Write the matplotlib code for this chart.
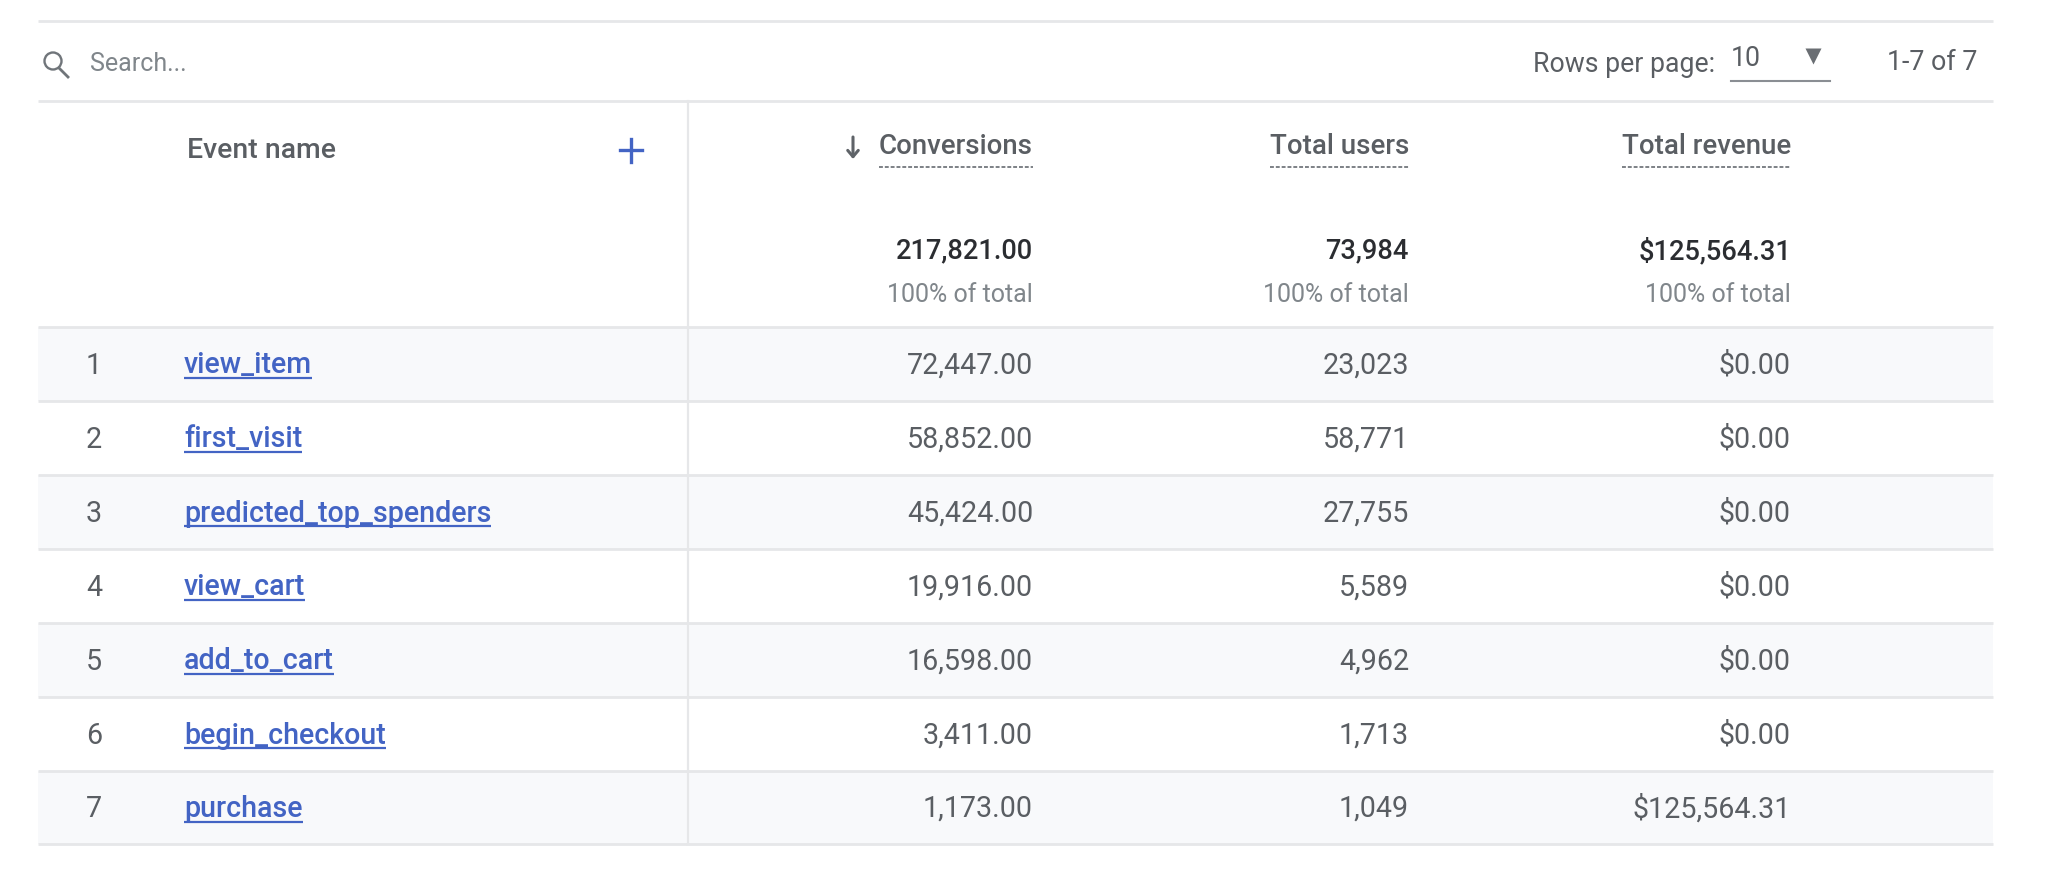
#!/usr/bin/env python3
"""Event conversions table, drawn on a pixel-sized axes"""

import matplotlib
matplotlib.use('Agg')
import matplotlib.pyplot as plt
from matplotlib.patches import Circle, Rectangle

# table content
event_names = ["view_item", "first_visit", "predicted_top_spenders", "view_cart",
               "add_to_cart", "begin_checkout", "purchase"]
conversions = ["72,447.00", "58,852.00", "45,424.00", "19,916.00",
               "16,598.00", "3,411.00", "1,173.00"]
total_users = ["23,023", "58,771", "27,755", "5,589", "4,962", "1,713", "1,049"]
total_revenue = ["$0.00", "$0.00", "$0.00", "$0.00", "$0.00", "$0.00", "$125,564.31"]
metric_headers = ["Conversions", "Total users", "Total revenue"]
metric_totals = ["217,821.00", "73,984", "$125,564.31"]

# layout in pixels
W, H = 2046, 876
LEFT, RIGHT = 38, 1993
DIVIDER_X = 688
COL_RIGHT = [1033, 1409, 1791]
ROW_LINES = [327, 401, 475, 549, 623, 697, 771, 844]

TEXT = '#5a5e63'
DARK = '#2b2d31'
MUTED = '#80868b'
BLUE = '#4364c4'
LINE = '#e6e7e9'
SHADE = '#f8f9fb'
FS = 20.6

plt.rcParams['font.family'] = ['Roboto', 'DejaVu Sans']

fig = plt.figure(figsize=(W / 100, H / 100), dpi=100)
ax = fig.add_axes([0, 0, 1, 1])
ax.set_xlim(0, W)
ax.set_ylim(H, 0)
ax.axis('off')


def underline(txt, y, color, lw, ls='-'):
    """Draw a line under a text, as wide as the text itself"""
    box = txt.get_window_extent(fig.canvas.get_renderer())
    ax.plot([box.x0, box.x1], [y, y], color=color, lw=lw, ls=ls, solid_capstyle='butt')


# shaded rows
for i in range(0, len(event_names), 2):
    ax.add_patch(Rectangle((LEFT, ROW_LINES[i]), RIGHT - LEFT, ROW_LINES[i + 1] - ROW_LINES[i],
                           facecolor=SHADE, edgecolor='none', zorder=0))

# rules
for y in [21, 101] + ROW_LINES:
    ax.plot([LEFT, RIGHT], [y, y], color=LINE, lw=2, zorder=1, solid_capstyle='butt')
ax.plot([DIVIDER_X, DIVIDER_X], [101, 844], color=LINE, lw=1.6, zorder=1)

# search bar
ax.add_patch(Circle((53, 61), 8.5, fill=False, edgecolor='#70757a', lw=1.7))
ax.plot([59, 68], [68, 77], color='#70757a', lw=2)
ax.text(90, 64, "Search...", fontsize=18, color=MUTED, va='center', ha='left')

# pager
ax.text(1715, 64, "Rows per page:", fontsize=19.2, color=TEXT, va='center', ha='right')
ax.text(1731, 58, "10", fontsize=19.2, color=TEXT, va='center', ha='left')
ax.plot([1813], [56], marker='v', ms=11, color='#6a6e73', mec='none')
ax.plot([1731, 1830], [81, 81], color='#8a8e93', lw=1.5)
ax.text(1977, 63, "1-7 of 7", fontsize=19.3, color=TEXT, va='center', ha='right')

# header row
ax.text(187, 151, "Event name", fontsize=20.4, color=TEXT, va='center', ha='left', fontweight='medium')
ax.plot([631, 631], [139, 162], color=BLUE, lw=2.4)
ax.plot([620, 642], [150, 150], color=BLUE, lw=2.4)

for right, head, total in zip(COL_RIGHT, metric_headers, metric_totals):
    t = ax.text(right, 147, head, fontsize=19.9, color=TEXT, va='center', ha='right', fontweight='medium')
    underline(t, 167, '#7d8186', 1.4, (0, (2, 1)))
    ax.text(right, 251, total, fontsize=19.6, color=DARK, va='center', ha='right', fontweight='medium')
    ax.text(right, 295, "100% of total", fontsize=18, color=MUTED, va='center', ha='right')

# sort arrow next to the first metric
ax.annotate('', xy=(853, 159), xytext=(853, 137),
            arrowprops=dict(arrowstyle='->,head_width=0.38,head_length=0.45', color='#5f6368', lw=2.2,
                            shrinkA=0, shrinkB=0))

# body rows
for i, name in enumerate(event_names):
    y = (ROW_LINES[i] + ROW_LINES[i + 1]) / 2
    ax.text(94, y + 1.5, str(i + 1), fontsize=FS, color=TEXT, va='center', ha='center')
    t = ax.text(184, y + 1.5, name, fontsize=FS, color=BLUE, va='center', ha='left', fontweight='medium')
    underline(t, y + 14, BLUE, 1.6)
    for right, col in zip(COL_RIGHT, [conversions, total_users, total_revenue]):
        ax.text(right, y + 1.5, col[i], fontsize=FS, color=TEXT, va='center', ha='right')

plt.savefig("out.png", dpi=100)
